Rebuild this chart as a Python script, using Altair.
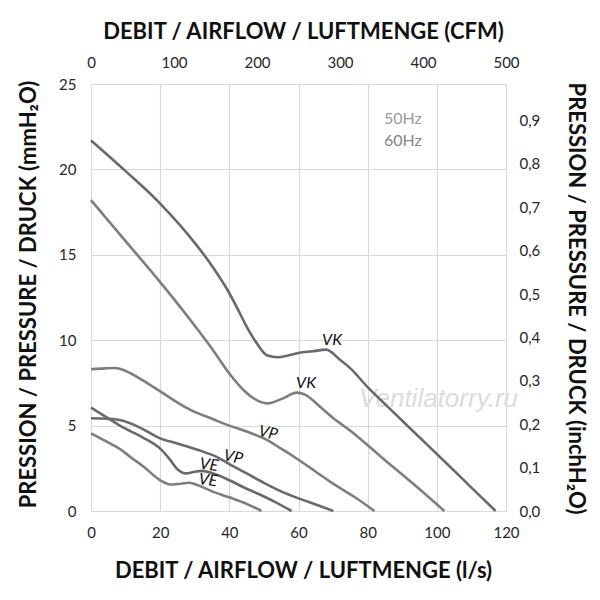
import altair as alt
import pandas as pd

# ---- data ----
vk60_x = [0, 10, 20, 30, 35, 39, 42, 45, 48, 51, 54, 57, 60, 64, 68, 72, 75, 80, 86, 93, 103, 110, 117]
vk60_y = [21.7, 19.9, 18.0, 15.7, 14.35, 13.1, 12.0, 10.8, 9.8, 9.1, 9.0, 9.1, 9.25, 9.35, 9.45, 8.85, 8.35, 7.25, 6.07, 4.7, 2.75, 1.37, 0]

vk50_x = [0, 10, 20, 30, 35, 40, 44, 47, 51, 55, 59.5, 62, 66, 70, 75, 84, 93, 102.2]
vk50_y = [18.2, 15.8, 13.4, 10.85, 9.5, 8.05, 7.1, 6.6, 6.3, 6.55, 6.93, 6.8, 6.15, 5.45, 4.7, 3.15, 1.62, 0]

vp60_x = [0, 4, 7, 10, 15, 20, 25, 30, 35, 40, 45, 50, 55, 60, 65, 70, 76, 82]
vp60_y = [8.3, 8.35, 8.37, 8.2, 7.65, 7.0, 6.35, 5.8, 5.4, 5.0, 4.65, 4.25, 3.65, 3.0, 2.3, 1.6, 0.85, 0]

vp50_x = [0, 5, 9, 14, 20, 25, 31, 36, 40, 45, 50, 55, 60, 65, 70.1]
vp50_y = [5.43, 5.4, 5.3, 4.9, 4.25, 3.95, 3.57, 3.2, 2.75, 2.2, 1.65, 1.15, 0.74, 0.38, 0]

ve60_x = [0, 5, 9, 15, 20, 22.5, 25, 27.5, 30, 32, 36, 40, 45, 50, 54, 58]
ve60_y = [6.05, 5.42, 4.92, 4.3, 3.65, 3.1, 2.45, 2.2, 2.3, 2.35, 2.15, 1.8, 1.3, 0.85, 0.45, 0]

ve50_x = [0, 4, 8.8, 11.3, 15.5, 20, 23, 26, 28.5, 31, 35, 40, 45, 49.3]
ve50_y = [4.55, 4.12, 3.57, 3.18, 2.55, 1.8, 1.55, 1.6, 1.65, 1.5, 1.15, 0.8, 0.42, 0]

series_names = ["VK 60Hz", "VK 50Hz", "VP 60Hz", "VP 50Hz", "VE 60Hz", "VE 50Hz"]
series_colors = ["#6a6a6a", "#7e7e7e", "#7e7e7e", "#6a6a6a", "#6a6a6a", "#7e7e7e"]

label_text = ["VK", "VK", "VP", "VP", "VE", "VE"]
label_x = [69.7, 62.2, 51.2, 41.1, 34.1, 33.8]
label_y = [10.0, 7.5, 4.57, 3.15, 2.7, 1.8]
label_angle = [0, 0, 12, 12, 8, 8]

legend_text = ["50Hz", "60Hz"]
legend_x = [90.2, 90.2]
legend_y = [22.95, 21.65]
legend_colors = ["#9a9a9a", "#868686"]

watermark_text = ["Ventilatorry.ru"]
watermark_x = [100.5]
watermark_y = [6.55]

x_ticks = [0, 20, 40, 60, 80, 100, 120]
y_ticks = [0, 5, 10, 15, 20, 25]
cfm_ticks = [0, 100, 200, 300, 400, 500]
inch_ticks = [0, 0.1, 0.2, 0.3, 0.4, 0.5, 0.6, 0.7, 0.8, 0.9]
inch_max = 25 / 25.4  # 25 mmH2O in inchH2O

# ---- build tables ----
rows = []
for name, xs_, ys_ in zip(series_names,
                          [vk60_x, vk50_x, vp60_x, vp50_x, ve60_x, ve50_x],
                          [vk60_y, vk50_y, vp60_y, vp50_y, ve60_y, ve50_y]):
    for i, (xv, yv) in enumerate(zip(xs_, ys_)):
        rows.append({"series": name, "x": xv, "y": yv, "order": i})
curves = pd.DataFrame(rows)
labels = pd.DataFrame({"t": label_text, "x": label_x, "y": label_y, "a": label_angle})
legend = pd.DataFrame({"t": legend_text, "x": legend_x, "y": legend_y, "c": legend_colors})
wm = pd.DataFrame({"t": watermark_text, "x": watermark_x, "y": watermark_y})
sec = pd.DataFrame({"cfm": [0, 500], "inch": [0, inch_max]})

FONT = "Lato"
TITLE_SIZE = 22
LABEL_SIZE = 15

xs = alt.Scale(domain=[0, 120], nice=False, zero=False)
ys = alt.Scale(domain=[0, 25], nice=False, zero=False)

x_enc = alt.X("x:Q", scale=xs, axis=alt.Axis(
    values=x_ticks, grid=True, gridColor="#d9d9d9", gridWidth=1.2, domain=False, ticks=False,
    labelFlush=False, labelPadding=14, labelFont=FONT, labelFontSize=LABEL_SIZE, labelColor="#262626",
    title="DEBIT / AIRFLOW / LUFTMENGE (l/s)", titleFont=FONT, titleFontSize=TITLE_SIZE,
    titleFontWeight="bold", titleColor="#111111", titleX=212, titleY=59,
    titleBaseline="middle", titleAlign="center"))
y_enc = alt.Y("y:Q", scale=ys, axis=alt.Axis(
    values=y_ticks, grid=True, gridColor="#d9d9d9", gridWidth=1.2, domain=False, ticks=False,
    labelFlush=False, labelPadding=15, labelFont=FONT, labelFontSize=LABEL_SIZE, labelColor="#262626",
    title="PRESSION / PRESSURE / DRUCK (mmH₂O)", titleFont=FONT, titleFontSize=TITLE_SIZE,
    titleFontWeight="bold", titleColor="#111111", titleX=-63, titleY=210, titleAngle=-90,
    titleBaseline="middle", titleAlign="center"))

lines = alt.Chart(curves).mark_line(interpolate="monotone", strokeWidth=2.6).encode(
    x=x_enc, y=y_enc,
    color=alt.Color("series:N", scale=alt.Scale(domain=series_names, range=series_colors), legend=None),
    order="order:Q",
    detail="series:N",
)

label_layer = alt.Chart(labels).mark_text(font=FONT, fontSize=16, fontStyle="italic", color="#111111").encode(
    x=alt.X("x:Q", scale=xs), y=alt.Y("y:Q", scale=ys), text="t:N", angle=alt.Angle("a:Q", scale=None)
)

legend_layer = alt.Chart(legend).mark_text(font=FONT, fontSize=16).encode(
    x=alt.X("x:Q", scale=xs), y=alt.Y("y:Q", scale=ys), text="t:N", color=alt.Color("c:N", scale=None)
)

wm_layer = alt.Chart(wm).mark_text(font="Liberation Sans", fontSize=26, fontStyle="italic",
                                   color="#dcdcdc").encode(
    x=alt.X("x:Q", scale=xs), y=alt.Y("y:Q", scale=ys), text="t:N"
)

main = alt.layer(wm_layer, lines, label_layer, legend_layer)

secondary = alt.Chart(sec).mark_point(opacity=0).encode(
    x=alt.X("cfm:Q", scale=alt.Scale(domain=[0, 500], nice=False), axis=alt.Axis(
        orient="top", values=cfm_ticks, grid=False, domain=False, ticks=False, labelPadding=14,
        labelFlush=False, labelFont=FONT, labelFontSize=LABEL_SIZE, labelColor="#262626",
        title="DEBIT / AIRFLOW / LUFTMENGE (CFM)", titleFont=FONT, titleFontSize=TITLE_SIZE,
        titleFontWeight="bold", titleColor="#111111", titleX=212, titleY=-53,
        titleBaseline="middle", titleAlign="center")),
    y=alt.Y("inch:Q", scale=alt.Scale(domain=[0, inch_max], nice=False), axis=alt.Axis(
        orient="right", values=inch_ticks, grid=False, domain=False, ticks=False, labelPadding=13,
        labelFlush=False, labelExpr="replace(format(datum.value, '.1f'), '.', ',')",
        labelFont=FONT, labelFontSize=LABEL_SIZE, labelColor="#262626",
        title="PRESSION / PRESSURE / DRUCK (inchH₂O)", titleFont=FONT, titleFontSize=TITLE_SIZE,
        titleFontWeight="bold", titleColor="#111111", titleX=69, titleY=214, titleAngle=90,
        titleBaseline="middle", titleAlign="center")),
)

chart = alt.layer(main, secondary).resolve_scale(x="independent", y="independent").properties(
    width=415, height=427,
    autosize=alt.AutoSizeParams(type="none"),
    padding={"left": 83, "top": 76, "right": 86, "bottom": 81},
).configure_view(stroke=None).configure(background="white")

chart.save("out.html", embed_options={"renderer": "svg", "actions": False})
